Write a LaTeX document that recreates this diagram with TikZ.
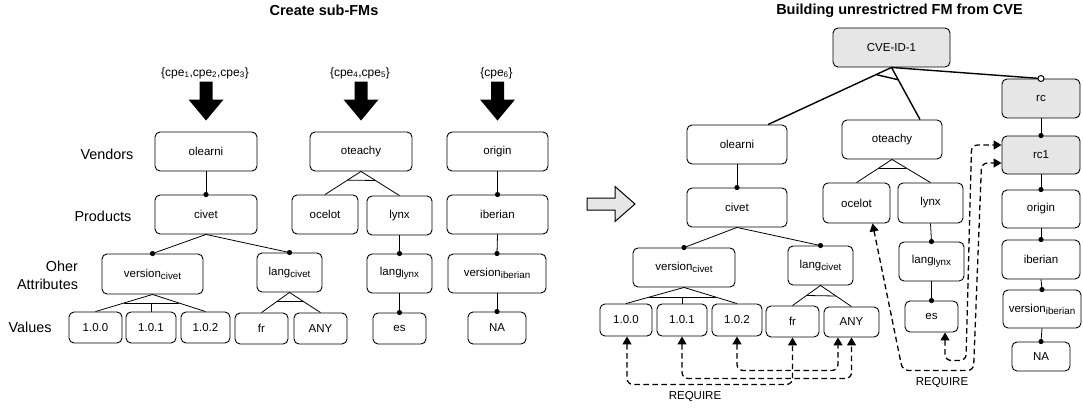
\documentclass[tikz,border=0pt]{standalone}
\usepackage{fontspec}
\setmainfont{Liberation Sans}
\usetikzlibrary{calc,arrows.meta}
\definecolor{boxgray}{HTML}{E6E6E6}
\newcommand{\subt}[1]{\raisebox{-0.3ex}{\fontsize{9.8}{10}\selectfont #1}}
\newcommand{\mand}[2]{\draw[tline] (#1.south) -- (#2.north); \fill (#2.north) circle (2.6pt);}
\newcommand{\altgrp}[4]{%
  \draw[tline] (#2.north) -- (#1.south) -- (#3.north);
  \draw[tline] ($(#1.south)!#4!(#2.north)$) -- ($(#1.south)!#4!(#3.north)$);}
\newcommand{\midleg}[4]{%
  \coordinate (mtmp) at ($(#1.south)!#4!(#2.north)$);
  \draw[tline] (#3.north |- mtmp) -- (#3.north);}
\newcommand{\bigarr}[1]{%
  \fill[black] ([yshift=11pt]#1.north) -- ++(17.5,-21) -- ++(-11,0) -- ++(0,-18) -- ++(-13,0) -- ++(0,18) -- ++(-11,0) -- cycle;}
\begin{document}
\begin{tikzpicture}[x=1pt,y=-1pt,
  fmbox/.style={draw, rounded corners=5pt, line width=0.9pt, inner sep=0pt, font=\fontsize{11.5}{13}\selectfont},
  gbox/.style={fmbox, fill=boxgray},
  tline/.style={line width=0.8pt},
  cveline/.style={line width=1.4pt},
  lbl/.style={font=\fontsize{14.4}{18}\selectfont},
  ttl/.style={font=\bfseries\fontsize{14.5}{17}\selectfont},
  cpe/.style={font=\fontsize{12}{14}\selectfont},
  reqlbl/.style={font=\fontsize{11.5}{13}\selectfont},
  req/.style={dash pattern=on 5.5pt off 3.5pt, line width=1.3pt, rounded corners=6pt,
    {Triangle[length=8pt,width=9pt]}-{Triangle[length=8pt,width=9pt]}}
]
\useasboundingbox (0,0) rectangle (1083,409);

% titles
\node[ttl] (t1) at (324,10.5) {Create sub-FMs};
\node[ttl] (t2) at (899.5,10.5) {Building unrestrictred FM from CVE};

% row labels
\node[lbl] (lv) at (107,154) {Vendors};
\node[lbl] (lp) at (103,216) {Products};
\node[lbl, anchor=east, align=right] (lo) at (81.5,275) {Oher\\Attributes};
\node[lbl] (lval) at (30,327) {Values};

% ---------- left: sub-FMs ----------
\node[fmbox, minimum width=102pt, minimum height=39pt] (Lole) at (206,151.5) {olearni};
\node[fmbox, minimum width=102pt, minimum height=39pt] (Lciv) at (206,214.5) {civet};
\node[fmbox, minimum width=101pt, minimum height=40pt] (Lver) at (152.5,274) {version\subt{civet}};
\node[fmbox, minimum width=65pt, minimum height=39pt] (Llang) at (289.5,272.5) {lang\subt{civet}};
\node[fmbox, minimum width=53pt, minimum height=31pt] (Lva) at (95.5,327.5) {1.0.0};
\node[fmbox, minimum width=50pt, minimum height=31pt] (Lvb) at (151,327.5) {1.0.1};
\node[fmbox, minimum width=49pt, minimum height=31pt] (Lvc) at (205.5,327.5) {1.0.2};
\node[fmbox, minimum width=53pt, minimum height=31pt] (Lfr) at (261.5,328.5) {fr};
\node[fmbox, minimum width=53pt, minimum height=31pt] (Lany) at (320.5,328.5) {ANY};

\node[fmbox, minimum width=102pt, minimum height=39pt] (Lote) at (361,151.5) {oteachy};
\node[fmbox, minimum width=66pt, minimum height=39pt] (Loce) at (325,214.5) {ocelot};
\node[fmbox, minimum width=65pt, minimum height=39pt] (Llynx) at (399.5,215.5) {lynx};
\node[fmbox, minimum width=65pt, minimum height=39pt] (Llangl) at (399.5,273.5) {lang\subt{lynx}};
\node[fmbox, minimum width=53pt, minimum height=31pt] (Les) at (399.5,328.5) {es};

\node[fmbox, minimum width=101pt, minimum height=39pt] (Lori) at (497.5,151.5) {origin};
\node[fmbox, minimum width=101pt, minimum height=39pt] (Libe) at (497.5,214.5) {iberian};
\node[fmbox, minimum width=98pt, minimum height=39pt] (Lveri) at (497,273.5) {version\subt{iberian}};
\node[fmbox, minimum width=58pt, minimum height=32pt] (Lna) at (497,328) {NA};

% cpe labels and big arrows
\node[cpe] (cpeA) at (205,73) {\{cpe\textsubscript{1},cpe\textsubscript{2},cpe\textsubscript{3}\}};
\node[cpe] (cpeB) at (360,73) {\{cpe\textsubscript{4},cpe\textsubscript{5}\}};
\node[cpe] (cpeC) at (496.5,73) {\{cpe\textsubscript{6}\}};
\bigarr{Lole}
\bigarr{Lote}
\bigarr{Lori}

% left connectors
\mand{Lole}{Lciv}
\mand{Lciv}{Lver}
\mand{Lciv}{Llang}
\altgrp{Lver}{Lva}{Lvc}{0.5}
\midleg{Lver}{Lva}{Lvb}{0.5}
\altgrp{Llang}{Lfr}{Lany}{0.43}
\altgrp{Lote}{Loce}{Llynx}{0.375}
\mand{Llynx}{Llangl}
\mand{Llangl}{Les}
\mand{Lori}{Libe}
\mand{Libe}{Lveri}
\mand{Lveri}{Lna}

% gray arrow
\draw[fill=boxgray, line width=1pt, line join=miter] (587,198) -- (615,198) -- (615,186.5) -- (635,204) -- (615,221.5) -- (615,210) -- (587,210) -- cycle;

% ---------- right: unrestricted FM ----------
\node[gbox, minimum width=117pt, minimum height=39pt] (Rcve) at (891.5,47.5) {CVE-ID-1};
\node[gbox, minimum width=78pt, minimum height=39pt] (Rrc) at (1041,98.5) {rc};
\node[gbox, minimum width=78pt, minimum height=38pt] (Rrca) at (1041,155) {rc1};
\node[fmbox, minimum width=78pt, minimum height=38pt] (Rori) at (1041,209) {origin};
\node[fmbox, minimum width=78pt, minimum height=39pt] (Ribe) at (1041,259.5) {iberian};
\node[fmbox, minimum width=78pt, minimum height=38pt] (Rveri) at (1042,309) {version\subt{iberian}};
\node[fmbox, minimum width=58pt, minimum height=29pt] (Rna) at (1041,356.5) {NA};

\node[fmbox, minimum width=100pt, minimum height=39pt] (Role) at (737,144.5) {olearni};
\node[fmbox, minimum width=100pt, minimum height=39pt] (Rciv) at (737,207.5) {civet};
\node[fmbox, minimum width=102pt, minimum height=39pt] (Rver) at (684,267.5) {version\subt{civet}};
\node[fmbox, minimum width=65pt, minimum height=39pt] (Rlang) at (820.5,265.5) {lang\subt{civet}};
\node[fmbox, minimum width=52pt, minimum height=32pt] (Rva) at (626,320) {1.0.0};
\node[fmbox, minimum width=50pt, minimum height=32pt] (Rvb) at (682,320) {1.0.1};
\node[fmbox, minimum width=50pt, minimum height=32pt] (Rvc) at (737,320) {1.0.2};
\node[fmbox, minimum width=53pt, minimum height=31pt] (Rfr) at (792.5,321.5) {fr};
\node[fmbox, minimum width=55pt, minimum height=30pt] (Rany) at (851.5,322) {ANY};

\node[fmbox, minimum width=100pt, minimum height=39pt] (Rote) at (892,139.5) {oteachy};
\node[fmbox, minimum width=67pt, minimum height=40pt] (Roce) at (856.5,203) {ocelot};
\node[fmbox, minimum width=65pt, minimum height=40pt] (Rlynx) at (930.5,203) {lynx};
\node[fmbox, minimum width=65pt, minimum height=39pt] (Rlangl) at (931.5,261.5) {lang\subt{lynx}};
\node[fmbox, minimum width=53pt, minimum height=31pt] (Res) at (931.5,316.5) {es};

% CVE connectors
\coordinate (cvA) at ([xshift=31pt]Role.north);
\coordinate (cvB) at ([xshift=28pt]Rote.north);
\draw[cveline] (cvA) -- (Rcve.south) -- (cvB);
\draw[cveline] ($(Rcve.south)!17pt!(cvA)$) -- ($(Rcve.south)!14pt!(cvB)$);
\draw[cveline] (Rcve.south) -- (Rrc.north);
\draw[line width=1pt, fill=white] (Rrc.north) circle (3pt);

\mand{Rrc}{Rrca}
\mand{Rrca}{Rori}
\mand{Rori}{Ribe}
\mand{Ribe}{Rveri}
\mand{Rveri}{Rna}

\mand{Role}{Rciv}
\mand{Rciv}{Rver}
\mand{Rciv}{Rlang}
\altgrp{Rver}{Rva}{Rvc}{0.6}
\midleg{Rver}{Rva}{Rvb}{0.6}
\altgrp{Rlang}{Rfr}{Rany}{0.5}
\altgrp{Rote}{Roce}{Rlynx}{0.375}
\mand{Rlynx}{Rlangl}
\mand{Rlangl}{Res}

% REQUIRE constraints
\draw[req] ([xshift=1pt]Rva.south) -- ++(0,48) -| (Rfr.south);
\draw[req] (Rvb.south) -- ++(0,42) -| (Rany.south);
\draw[req] (Rvc.south) -- ++(0,34) -| ([xshift=-13.5pt]Rany.south);
\node[reqlbl] (rq1) at (695,397) {REQUIRE};

\draw[req] ([xshift=13.5pt]Res.south) -- ++(0,28) -- ++(21,0) -- ([xshift=-30pt,yshift=10pt]Rrca.west) -- ([yshift=10pt]Rrca.west);
\draw[req] ([xshift=16pt]Roce.south) -- ++(30,147) -- ++(71,0) -- ([xshift=-20pt,yshift=-8pt]Rrca.west) -- ([yshift=-8pt]Rrca.west);
\node[reqlbl] (rq2) at (942,383) {REQUIRE};

\end{tikzpicture}
\end{document}
